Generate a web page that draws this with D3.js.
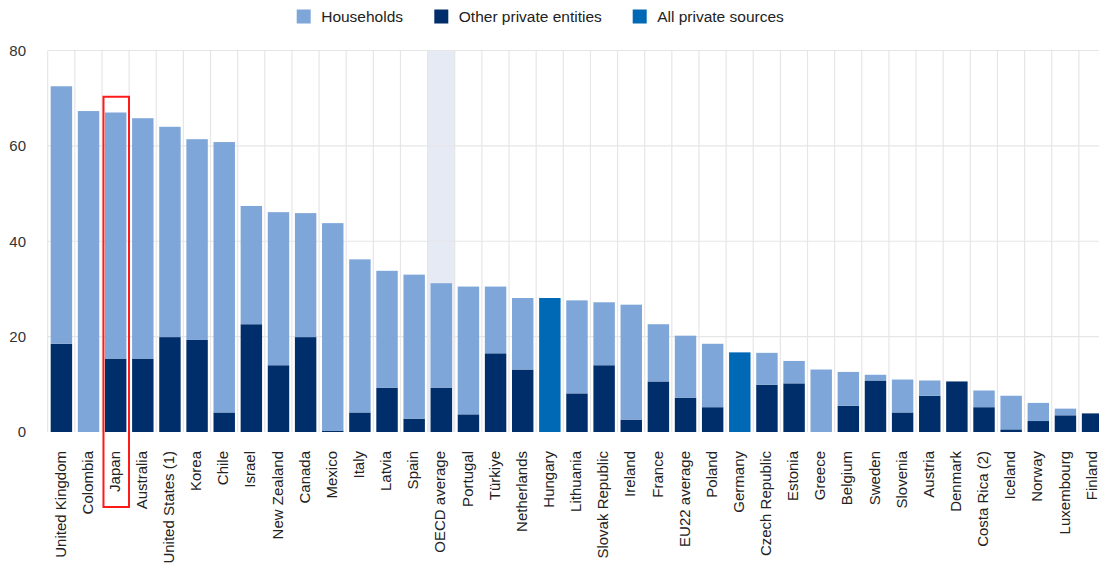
<!DOCTYPE html>
<html>
<head>
<meta charset="utf-8">
<script src="https://cdn.jsdelivr.net/npm/d3@7"></script>
<style>
  body { margin: 0; background: #fff; }
  svg { display: block; font-family: "Liberation Sans", Arial, sans-serif; }
</style>
</head>
<body>
<svg id="chart" width="1099" height="564"></svg>
<script>
const categories = ["United Kingdom","Colombia","Japan","Australia","United States (1)","Korea","Chile","Israel","New Zealand","Canada","Mexico","Italy","Latvia","Spain","OECD average","Portugal","Türkiye","Netherlands","Hungary","Lithuania","Slovak Republic","Ireland","France","EU22 average","Poland","Germany","Czech Republic","Estonia","Greece","Belgium","Sweden","Slovenia","Austria","Denmark","Costa Rica (2)","Iceland","Norway","Luxembourg","Finland"];
const households = [54.0,67.3,51.6,50.4,44.1,42.1,56.7,24.8,32.1,26.0,43.5,32.1,24.5,30.2,21.9,26.8,14.0,15.0,0,19.5,13.2,24.1,12.0,13.0,13.3,0,6.7,4.7,13.1,7.1,1.2,6.9,3.2,0,3.5,7.05,3.8,1.4,0];
const otherPrivate = [18.5,0,15.4,15.4,19.9,19.3,4.1,22.6,14.0,19.9,0.3,4.1,9.3,2.8,9.3,3.7,16.5,13.1,0,8.1,14.0,2.6,10.6,7.2,5.2,0,9.9,10.2,0,5.5,10.8,4.1,7.6,10.6,5.2,0.55,2.3,3.5,3.9];
const allPrivate = [0,0,0,0,0,0,0,0,0,0,0,0,0,0,0,0,0,0,28.1,0,0,0,0,0,0,16.7,0,0,0,0,0,0,0,0,0,0,0,0,0];
const yTicks = [0,20,40,60,80];
const seriesNames = ["Households","Other private entities","All private sources"];
const highlightCategory = "OECD average";
const boxedCategory = "Japan";

const colors = {"Households":"#7fa6d8","Other private entities":"#002e6b","All private sources":"#0069b6"};

const rows = categories.map((c,i)=>({cat:c,"Other private entities":otherPrivate[i],"Households":households[i],"All private sources":allPrivate[i]}));
const stack = d3.stack().keys(["Other private entities","Households","All private sources"]);
const layers = stack(rows);

const svg = d3.select("#chart");
const mLeft = 47.7, mRight = 1106, mTop = 50.5, mBottom = 432;
const x = d3.scaleBand().domain(categories).range([mLeft,mRight]).padding(0);
const y = d3.scaleLinear().domain([0,80]).range([mBottom,mTop]);
const step = x.step();

// highlight band
svg.append("rect")
  .attr("x", x(highlightCategory)).attr("width", step)
  .attr("y", y(80)).attr("height", y(0)-y(80))
  .attr("fill","#e6eaf4");

// gridlines
const grid = svg.append("g").attr("stroke","#e6e6e6").attr("stroke-width",1.2);
grid.selectAll("line.h").data(yTicks.filter(t=>t>0)).join("line")
  .attr("x1",mLeft).attr("x2",1099).attr("y1",d=>y(d)).attr("y2",d=>y(d));
grid.selectAll("line.v").data(categories).join("line")
  .attr("x1",d=>x(d)).attr("x2",d=>x(d)).attr("y1",y(80)).attr("y2",y(0));

// bars
const barOff = step*0.11, barW = step*0.79;
svg.append("g").selectAll("g").data(layers).join("g")
  .attr("fill",d=>colors[d.key])
  .selectAll("rect").data(d=>d.filter(p=>p[1]-p[0]>0)).join("rect")
  .attr("x",d=>x(d.data.cat)+barOff)
  .attr("width",barW)
  .attr("y",d=>y(d[1]))
  .attr("height",d=>y(d[0])-y(d[1]));

// y axis labels
const yAxis = d3.axisLeft(y).tickValues(yTicks).tickSize(0).tickPadding(0);
const ya = svg.append("g").attr("transform","translate(26,0)").call(yAxis);
ya.select(".domain").remove();
ya.selectAll("text").attr("font-size","15px").attr("fill","#333").attr("font-family","Liberation Sans, Arial, sans-serif");

// x labels
const xAxis = d3.axisBottom(x).tickSize(0).tickPadding(0);
const xa = svg.append("g").attr("transform",`translate(0,${mBottom})`).call(xAxis);
xa.select(".domain").remove();
xa.selectAll("text")
  .attr("font-size","15px").attr("fill","#222").attr("font-family","Liberation Sans, Arial, sans-serif")
  .attr("text-anchor","end")
  .attr("transform","translate(-1,19) rotate(-90)")
  .attr("x",0).attr("y",0).attr("dy","0.35em");

// red box around Japan
svg.append("rect")
  .attr("x", x(boxedCategory)+1.5).attr("width", step-1.6)
  .attr("y", y(70.3)).attr("height", 507 - y(70.3))
  .attr("fill","none").attr("stroke","#ff1a1a").attr("stroke-width",2);

// legend
const legendX = [296.7, 434.3, 632.7];
const lg = svg.append("g");
seriesNames.forEach((s,i)=>{
  lg.append("rect").attr("x",legendX[i]).attr("y",9.5).attr("width",14).attr("height",14).attr("fill",colors[s]);
  lg.append("text").attr("x",legendX[i]+24.5).attr("y",16.5).attr("dy","0.35em")
    .attr("font-size","15.5px").attr("fill","#222").text(s);
});
</script>
</body>
</html>
